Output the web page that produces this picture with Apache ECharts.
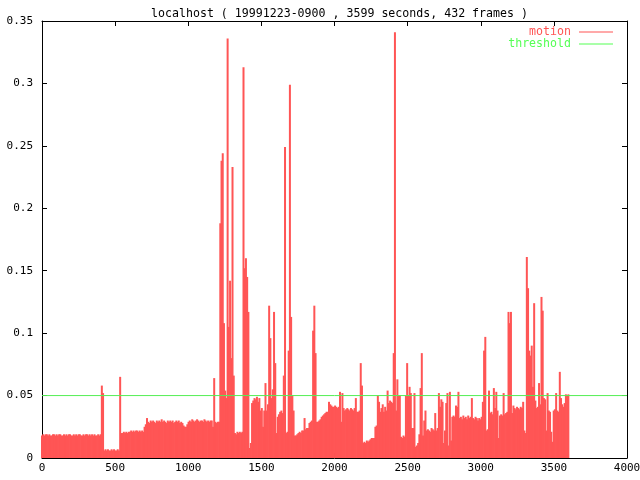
<!DOCTYPE html>
<html>
<head>
<meta charset="utf-8">
<script src="https://cdn.jsdelivr.net/npm/echarts@6/dist/echarts.min.js"></script>
<style>html,body{margin:0;padding:0;background:#fff;}#c{width:640px;height:480px;}</style>
</head>
<body>
<div id="c"></div>
<script>
// ---- data ----
var titleText = "localhost ( 19991223-0900 , 3599 seconds, 432 frames )";
var durationSec = 3599;
var thresholdValue = 0.05;
var xTicks = [0, 500, 1000, 1500, 2000, 2500, 3000, 3500, 4000];
var yTicks = [0, 0.05, 0.1, 0.15, 0.2, 0.25, 0.3, 0.35];

var motionA = [
0.018,0.019,0.018,0.019,0.019,0.018,0.019,0.018,0.018,0.019,
0.019,0.018,0.019,0.018,0.019,0.019,0.018,0.018,0.019,0.018,
0.019,0.018,0.019,0.019,0.018,0.018,0.019,0.018,0.019,0.018,
0.019,0.019,0.018,0.018,0.019,0.018,0.019,0.019,0.018,0.019,
0.018,0.019,0.018,0.019,0.018,0.018,0.019,0.018,0.019,
0.058,0.052,
0.006,0.007,0.006,0.007,0.006,0.006,0.007,0.006,0.007,0.006,0.006,0.007,0.006,
0.065,
0.020,0.020,0.021,0.020,0.021,0.020,0.021,0.021,0.022,0.021,0.022,0.021,0.022,0.022,
0.021,0.022,0.021,0.022,0.021
];
var motionB = [
0.025,0.027,0.032,0.029,0.028,0.030,0.029,0.030,0.029,0.028,0.030,0.029,0.030,0.029,0.031,0.029,
0.030,0.029,0.028,0.030,0.029,0.030,0.029,0.030,0.028,0.029,0.030,0.029,0.030,0.028,0.029,0.028,
0.026,0.025,0.025,0.027,
0.029,0.030,0.029,0.031,0.030,0.029,0.030,0.031,0.030,0.029,0.030,0.030,0.029,0.031,0.030,0.029,0.030,0.029,0.030,0.030,
0.025,0.064,0.029,0.028,0.029,0.029
];
var motionC = [
0.188,0.238,0.244,0.108,0.054,0.048,0.336,0.105,0.142,0.080,0.233,0.066,
0.020,0.019,0.021,0.020,0.021,0.020,0.021,
0.313,0.152,0.160,0.145,0.117,
0.008,0.012,
0.044,0.046,0.048,0.047,0.049,0.045,0.048,
0.038,0.040,0.025,0.038,0.060,0.038,0.043,
0.122,0.096,0.048,0.055,0.117,0.076,0.020,
0.033,0.035,0.037,0.038,0.036,0.066,0.249,0.020,0.021,
0.086,0.299,0.113,0.050,0.038,
0.018,0.018,0.019,0.020,0.021,0.020,
0.022,0.022,0.032,0.023,0.024,0.024,
0.028,0.029,0.030
];
var motionD = [
0.102,0.122,0.084,
0.029,0.029,0.030,0.031,
0.033,0.034,0.035,0.036,0.037,0.037,
0.045,0.043,0.042,
0.041,0.041,0.042,0.041,0.040,0.041,
0.053,0.029,0.052,
0.040,0.038,0.039,0.040,0.039,0.038,0.040,0.039,0.038,0.040,0.048,
0.037,0.037,0.038,
0.076,0.058,
0.012,0.013,0.012,0.014,0.013,0.014,0.015,0.016,0.016,0.016,
0.025,0.026,0.050,0.045,
0.037,0.040,0.043,0.037,0.041,0.038,
0.054,0.044,0.046,0.045,0.044
];
var motionE = [
0.084,0.341,0.038,0.063,0.050,0.050,
0.017,0.016,0.018,0.017,
0.050,0.076,0.050,0.057,0.052,0.024,0.024,0.052,
0.009,0.010,0.012,0.019,
0.056,0.084,0.018,0.030,0.038,
0.022,0.023,0.022,0.021,0.024,0.023,0.022,
0.036,0.022,0.024,0.052,0.041,0.047,0.045,0.012,0.022,0.044,
0.052,0.010,0.053,0.014,0.033,0.034,0.033,
0.042,0.041,0.053,
0.032,0.033,0.031,0.034,0.032,0.033,0.031,0.034,0.032,0.033,
0.048,
0.032,0.031,0.033,0.032,0.030,0.032,0.031,0.033
];
var motionF = [
0.045,0.086,0.097,0.022,0.023,0.054,0.036,0.037,0.035,0.056,0.040,0.053,0.038,0.016,
0.034,0.035,0.034,0.052,0.035,0.036,0.037,
0.117,0.108,0.117,0.036,0.042,
0.040,0.039,0.041,0.040,0.039,0.041,0.040,0.045,
0.022,0.020,
0.161,0.136,0.086,0.082,0.090,0.057,0.124,
0.046,0.040,0.041,0.060,0.043,0.129,0.118,
0.048,0.047,0.022,0.052,0.038,0.037,0.021,0.013,
0.038,0.039,0.052,0.038,0.037,0.069,0.048,
0.043,0.041,0.044,0.051,0.050,0.051
];

var motion = [].concat(motionA, motionB, motionC, motionD, motionE, motionF);
var stepSec = durationSec / (motion.length - 1);
var motionData = motion.map(function (v, i) { return [i * stepSec, v]; });
var xMin = xTicks[0], xMax = xTicks[xTicks.length - 1];
var thresholdData = [[xMin, thresholdValue], [xMax, thresholdValue]];

// ---- chart ----
var FONT = 'DejaVu Sans Mono';
var RED = '#ff5555';
var GREEN = '#55ee55';
var chart = echarts.init(document.getElementById('c'), null, {renderer: 'canvas'});

function axisBase(show) {
  return {
    axisLine: {show: true, onZero: false, lineStyle: {color: '#000', width: 1}},
    axisTick: {show: true, inside: true, length: 5, lineStyle: {color: '#000'}},
    splitLine: {show: false},
    axisLabel: {show: show, color: '#000', fontFamily: FONT, fontSize: 11}
  };
}
var xb = axisBase(true), xt = axisBase(false), yl = axisBase(true), yr = axisBase(false);

chart.setOption({
  animation: false,
  backgroundColor: '#fff',
  title: {
    text: titleText, left: 334.5, textAlign: 'center', top: 3,
    textStyle: {fontFamily: FONT, fontSize: 11.6, fontWeight: 'normal', color: '#000'}
  },
  legend: {
    orient: 'vertical', right: 27, top: 26, align: 'right', padding: 0,
    icon: 'rect', itemWidth: 34, itemHeight: 1, itemGap: 0,
    textStyle: {fontFamily: FONT, fontSize: 11.6, padding: [0, 3, 0, 0]},
    data: [
      {name: 'motion', textStyle: {color: RED}, itemStyle: {color: RED}},
      {name: 'threshold', textStyle: {color: '#55ff55'}, itemStyle: {color: '#55ff55'}}
    ]
  },
  grid: {left: 42, right: 13, top: 21, bottom: 22, containLabel: false, outerBoundsMode: 'none'},
  xAxis: [
    Object.assign({type: 'value', position: 'bottom', min: xMin, max: xMax, interval: xTicks[1] - xTicks[0]}, xb,
      {axisLabel: Object.assign({}, xb.axisLabel, {margin: 5, formatter: function (v) { return String(v); }})}),
    Object.assign({type: 'value', position: 'top', min: xMin, max: xMax, interval: xTicks[1] - xTicks[0]}, xt)
  ],
  yAxis: [
    Object.assign({type: 'value', position: 'left', min: yTicks[0], max: yTicks[yTicks.length - 1], interval: yTicks[1] - yTicks[0]}, yl,
      {axisLabel: Object.assign({}, yl.axisLabel, {margin: 9, formatter: function (v) { return String(+v.toFixed(2)); }})}),
    Object.assign({type: 'value', position: 'right', min: yTicks[0], max: yTicks[yTicks.length - 1], interval: yTicks[1] - yTicks[0]}, yr)
  ],
  series: [
    {
      name: 'motion', type: 'bar', xAxisIndex: 0, yAxisIndex: 0,
      data: motionData, barWidth: 2,
      itemStyle: {color: RED},
      z: 2
    },
    {
      name: 'threshold', type: 'line', xAxisIndex: 0, yAxisIndex: 0,
      data: thresholdData, symbol: 'none', showSymbol: false, z: 3,
      itemStyle: {color: GREEN},
      lineStyle: {color: GREEN, width: 1}
    }
  ]
});
</script>
</body>
</html>
